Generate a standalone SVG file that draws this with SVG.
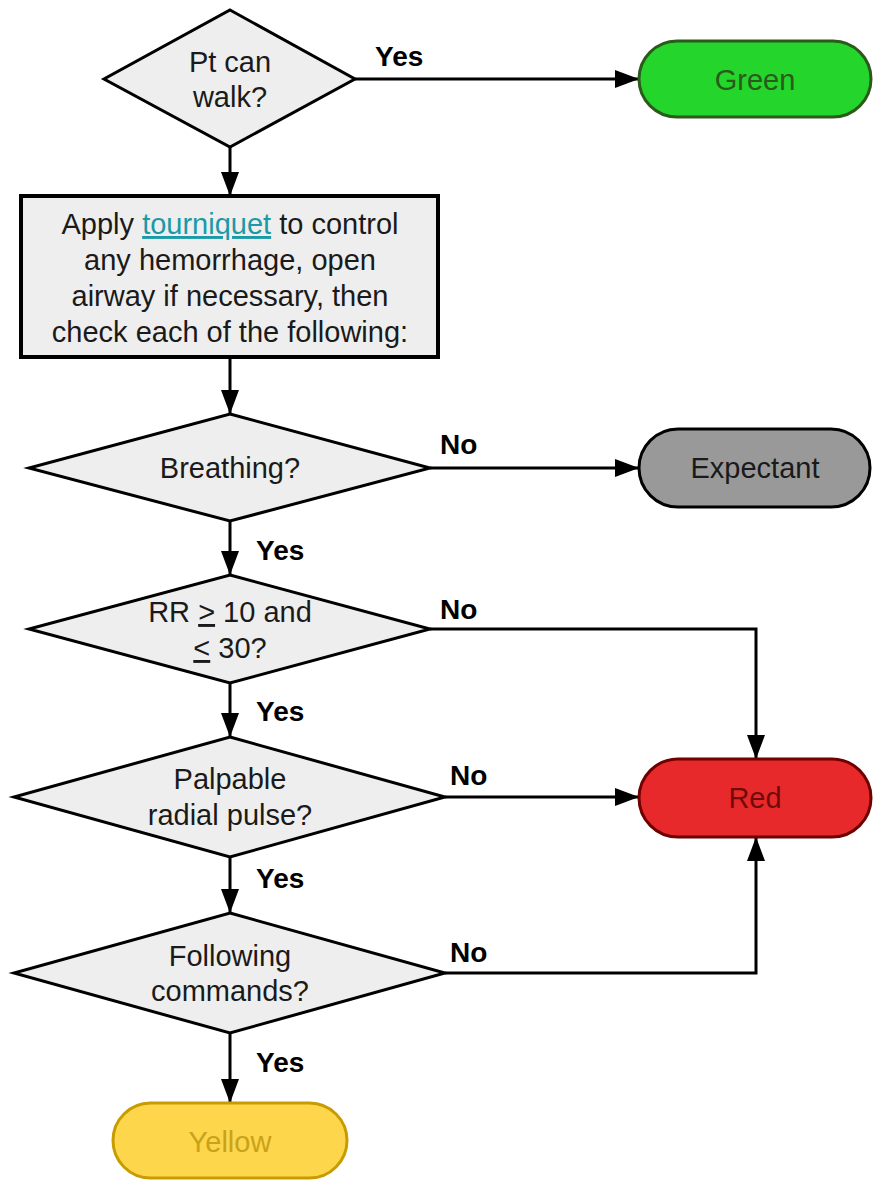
<svg xmlns="http://www.w3.org/2000/svg" width="874" height="1187" viewBox="0 0 874 1187">
  <defs>
    <marker id="arrow" markerUnits="userSpaceOnUse" markerWidth="24" markerHeight="18" refX="24" refY="9" orient="auto">
      <path d="M0,0 L24,9 L0,18 z" fill="#000"/>
    </marker>
    <style>
      .txt { font-family: "Liberation Sans", Arial, sans-serif; font-size: 29px; text-anchor: middle; fill: #1a1a1a; }
      .lbl { font-family: "Liberation Sans", Arial, sans-serif; font-size: 28px; font-weight: bold; fill: #000; }
      .decision { fill: #eeeeee; stroke: #000; stroke-width: 3; stroke-linejoin: miter; }
      .process { fill: #eeeeee; stroke: #000; stroke-width: 4; }
      .edge { fill: none; stroke: #000; stroke-width: 3; marker-end: url(#arrow); }
      .link { fill: #1a9aa6; text-decoration: underline; }
    </style>
  </defs>

  <rect width="874" height="1187" fill="#ffffff"/>

  <!-- connectors -->
  <g id="connectors">
    <path class="edge" d="M355,79 L639,79"/>
    <path class="edge" d="M230,147 L230,196"/>
    <path class="edge" d="M230,358 L230,414"/>
    <path class="edge" d="M430,468 L639,468"/>
    <path class="edge" d="M230,521 L230,575"/>
    <path class="edge" d="M430,629 L756,629 L756,759"/>
    <path class="edge" d="M230,683 L230,737"/>
    <path class="edge" d="M445,797 L639,797"/>
    <path class="edge" d="M230,857 L230,913"/>
    <path class="edge" d="M445,973 L756,973 L756,837"/>
    <path class="edge" d="M230,1033 L230,1103"/>
    <text class="lbl" x="375" y="66">Yes</text>
    <text class="lbl" x="440" y="454">No</text>
    <text class="lbl" x="256" y="560">Yes</text>
    <text class="lbl" x="440" y="619">No</text>
    <text class="lbl" x="256" y="721">Yes</text>
    <text class="lbl" x="450" y="785">No</text>
    <text class="lbl" x="256" y="888">Yes</text>
    <text class="lbl" x="450" y="962">No</text>
    <text class="lbl" x="256" y="1072">Yes</text>
  </g>

  <g id="walk">
    <polygon class="decision" points="230,10 355,79 230,147 104,79"/>
    <text class="txt" x="230" y="72">Pt can</text>
    <text class="txt" x="230" y="107">walk?</text>
  </g>

  <g id="green">
    <rect x="639" y="41" width="232" height="76" rx="38" fill="#24d52c" stroke="#2b5a1b" stroke-width="3"/>
    <text class="txt" x="755" y="90" style="fill:#2b5a1b">Green</text>
  </g>

  <g id="apply">
    <rect class="process" x="21" y="196" width="417" height="161"/>
    <text class="txt" x="230" y="234">Apply <tspan class="link">tourniquet</tspan> to control</text>
    <text class="txt" x="230" y="270">any hemorrhage, open</text>
    <text class="txt" x="230" y="306">airway if necessary, then</text>
    <text class="txt" x="230" y="342">check each of the following:</text>
  </g>

  <g id="breathing">
    <polygon class="decision" points="230,414 430,468 230,521 29,468"/>
    <text class="txt" x="230" y="478">Breathing?</text>
  </g>

  <g id="expectant">
    <rect x="639" y="429" width="231" height="78" rx="39" fill="#999999" stroke="#000" stroke-width="3"/>
    <text class="txt" x="755" y="478">Expectant</text>
  </g>

  <g id="rr">
    <polygon class="decision" points="230,575 430,629 230,683 29,629"/>
    <text class="txt" x="230" y="622">RR <tspan text-decoration="underline">&gt;</tspan> 10 and</text>
    <text class="txt" x="230" y="658"><tspan text-decoration="underline">&lt;</tspan> 30?</text>
  </g>

  <g id="pulse">
    <polygon class="decision" points="230,737 445,797 230,857 14,797"/>
    <text class="txt" x="230" y="789">Palpable</text>
    <text class="txt" x="230" y="825">radial pulse?</text>
  </g>

  <g id="red">
    <rect x="639" y="759" width="232" height="78" rx="39" fill="#e8292b" stroke="#6e0000" stroke-width="3"/>
    <text class="txt" x="755" y="808" style="fill:#700b0b">Red</text>
  </g>

  <g id="commands">
    <polygon class="decision" points="230,913 445,973 230,1033 14,973"/>
    <text class="txt" x="230" y="966">Following</text>
    <text class="txt" x="230" y="1001">commands?</text>
  </g>

  <g id="yellow">
    <rect x="113" y="1103" width="234" height="75" rx="37.5" fill="#fdd64c" stroke="#c79c00" stroke-width="3"/>
    <text class="txt" x="230" y="1152" style="fill:#c9a21a">Yellow</text>
  </g>
</svg>
